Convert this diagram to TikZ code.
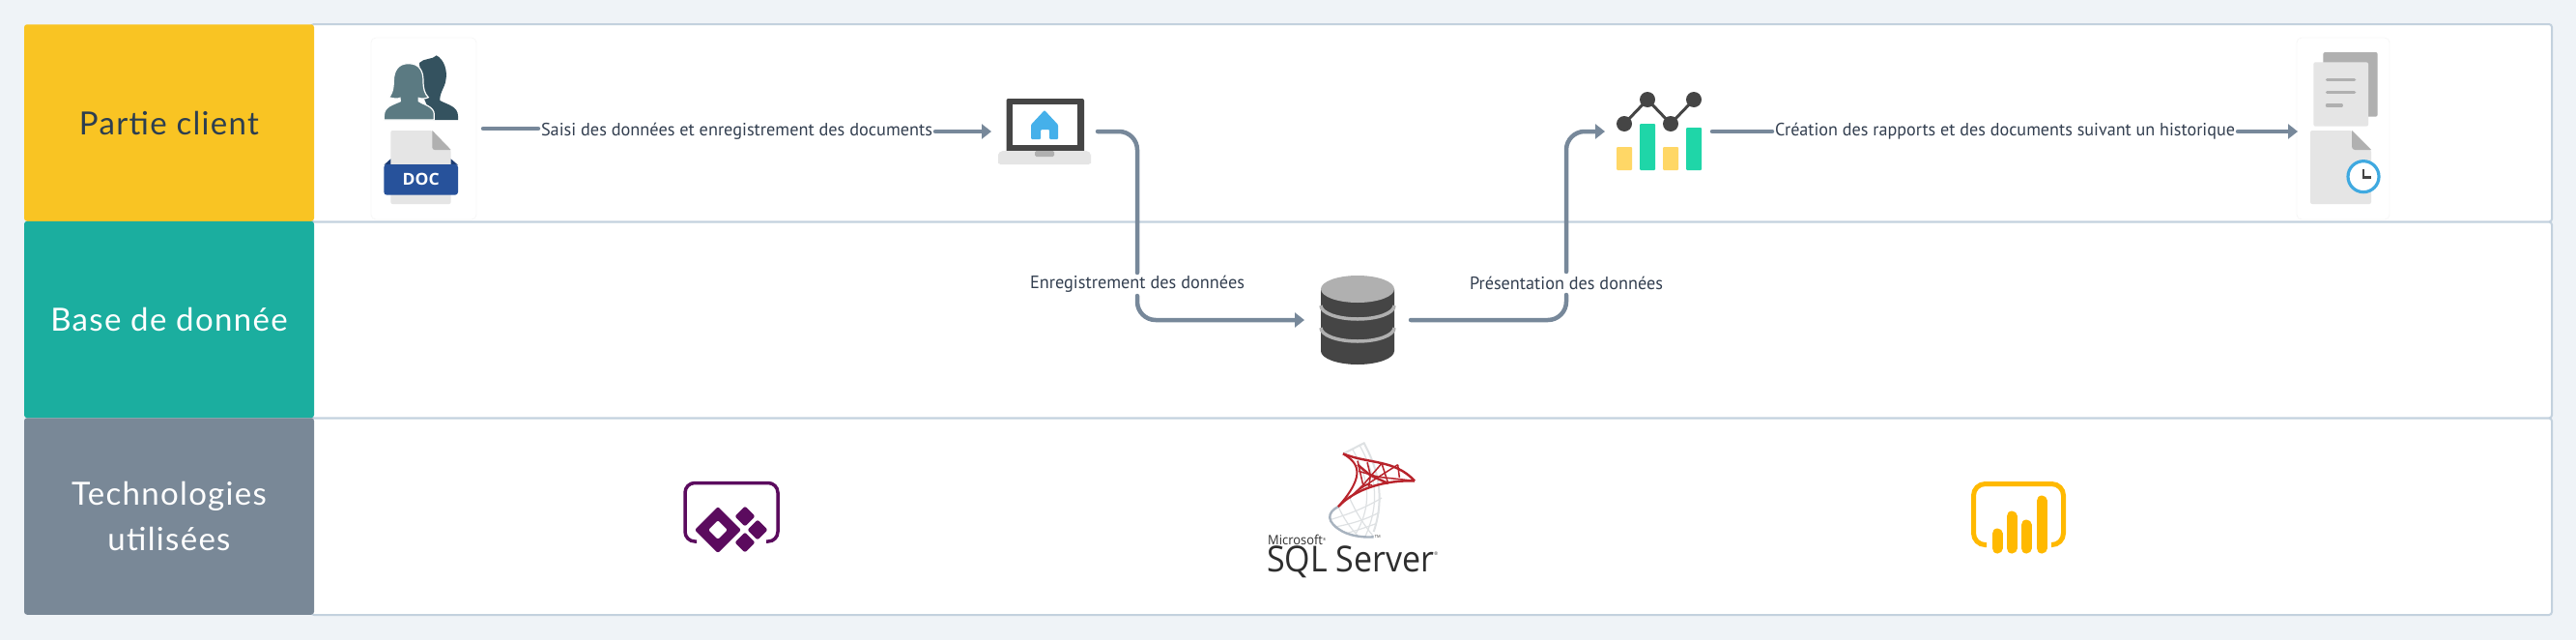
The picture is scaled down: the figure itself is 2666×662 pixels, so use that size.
\documentclass[tikz,border=0pt]{standalone}
\usepackage{fontspec}
\usepackage{graphicx}
\usetikzlibrary{arrows.meta}
\newfontfamily\hdrfont[LetterSpace=4]{Lato}
\newfontfamily\lblfont{PT Sans}
\newfontfamily\logofont{Open Sans}
\definecolor{pagebg}{HTML}{EFF3F7}
\definecolor{rowline}{HTML}{C3D1DE}
\definecolor{hyellow}{HTML}{F9C423}
\definecolor{hteal}{HTML}{1BAE9F}
\definecolor{hgrey}{HTML}{798897}
\definecolor{navy}{HTML}{2C3E50}
\definecolor{conn}{HTML}{77889A}
\definecolor{lbltxt}{HTML}{333F50}
\definecolor{dark}{HTML}{454545}
\definecolor{mid}{HTML}{B0B0B0}
\definecolor{pale}{HTML}{E5E5E5}
\definecolor{bluesky}{HTML}{45B0EA}
\definecolor{docblue}{HTML}{27529B}
\definecolor{person}{HTML}{5B7A82}
\definecolor{personb}{HTML}{34525F}
\definecolor{chgreen}{HTML}{1FD6A8}
\definecolor{chyellow}{HTML}{FFD766}
\definecolor{clockb}{HTML}{3FA9E0}
\definecolor{papps}{HTML}{5B0B5E}
\definecolor{pbi}{HTML}{FFB900}
\definecolor{sqlred}{HTML}{B8232B}
\definecolor{sqlgrey}{HTML}{DEE1E3}
\definecolor{sqlslate}{HTML}{A8B3BF}
\definecolor{sqltext}{HTML}{2E2E2E}
\newcommand{\fitlbl}[2]{\resizebox{#1pt}{\height}{\lblfont\fontsize{18.5}{20}\selectfont #2}}
\tikzset{
  rowhead/.style={rectangle,rounded corners=3pt,minimum width=300pt,minimum height=203.5pt,inner sep=0pt,outer sep=0pt,align=center,font=\hdrfont\fontsize{33}{47}\selectfont},
  rowpanel/.style={draw=rowline,line width=2pt,fill=white,rounded corners=3pt},
  anchorbox/.style={rectangle,inner sep=0pt,outer sep=0pt},
  flowlabel/.style={rectangle,fill=white,text=lbltxt,inner sep=0pt,outer sep=0pt,minimum height=24pt},
  flow/.style={draw=conn,line width=4.5pt,line cap=round,rounded corners=19pt},
  flowarrow/.style={flow,-{Triangle[length=10pt,width=15pt]}},
  iconcard/.style={fill=white,draw=black!3,line width=.8pt,rounded corners=5pt},
  zoomview/.style={x=.33333pt,y=-.33333pt}
}
\begin{document}
\begin{tikzpicture}[x=1pt,y=-1pt]
\useasboundingbox (0,0) rectangle (2666,662);
\fill[pagebg] (0,0) rectangle (2666,662);
% panels
\draw[rowpanel] (322,25) rectangle (2641,229.5);
\draw[rowpanel] (322,229.5) rectangle (2641,432.5);
\draw[rowpanel] (322,432.5) rectangle (2641,636);
% headers
\node[rowhead,fill=hyellow,text=navy] (h1) at (175,127) {Partie client};
\node[rowhead,fill=hteal,text=white] (h2) at (175,330.5) {Base de donnée};
\node[rowhead,fill=hgrey,text=white] (h3) at (175,534) {Technologies\\ utilisées};
% icon cards
\draw[iconcard] (384,39) rectangle (493,227);
\draw[iconcard] (2377,39) rectangle (2473,227);
% people
\begin{scope}[shift={(370,30)},zoomview]
 \fill[personb] (192,105) .. controls (205,90) and (235,95) .. (245,82) .. controls (270,95) and (280,130) .. (274,160) .. controls (270,185) and (255,195) .. (256,222) .. controls (280,235) and (312,240) .. (312,270) -- (312,282) -- (235,282) -- (200,200) -- cycle;
 \fill[person,draw=white,line width=1.2pt] (158,107) .. controls (125,107) and (113,130) .. (112,160) .. controls (112,190) and (105,205) .. (97,212) .. controls (110,216) and (125,218) .. (132,214) -- (133,224) .. controls (110,235) and (82,240) .. (82,270) -- (82,282) -- (238,282) -- (238,265) .. controls (238,240) and (205,235) .. (190,224) -- (190,214) .. controls (200,218) and (212,216) .. (220,212) .. controls (208,200) and (204,185) .. (204,160) .. controls (204,130) and (192,107) .. (158,107) -- cycle;
 % DOC file
 \fill[pale,rounded corners=2pt] (103,315) -- (232,315) -- (290,375) -- (290,543) -- (103,543) -- cycle;
 \fill[mid] (232,315) -- (290,375) -- (240,375) .. controls (235,375) and (232,372) .. (232,367) -- cycle;
 \fill[docblue!75!black] (82,422) -- (103,403) -- (103,422) -- cycle;
 \fill[docblue!75!black] (312,422) -- (290,403) -- (290,422) -- cycle;
 \fill[docblue,rounded corners=3pt] (82,420) -- (312,420) -- (312,515) -- (82,515) -- cycle;
 \node[inner sep=0pt,text=white] (doctext) at (197,467) {\resizebox{38pt}{\height}{\logofont\bfseries\fontsize{17}{18}\selectfont DOC}};
\end{scope}
% laptop
\fill[dark,rounded corners=2pt] (1041.5,102) rectangle (1122,158);
\fill[white] (1048,108) rectangle (1115,150);
\fill[pale,rounded corners=5pt] (1033,156) -- (1129,156) -- (1129,164) .. controls (1129,168) and (1126,170) .. (1122,170) -- (1040,170) .. controls (1036,170) and (1033,168) .. (1033,164) -- cycle;
\fill[mid,rounded corners=1.5pt] (1071,156) rectangle (1091,162);
\fill[bluesky,rounded corners=1pt] (1081,114) -- (1095,129) -- (1095,144) -- (1086,144) -- (1086,134) -- (1077,134) -- (1077,144) -- (1067,144) -- (1067,129) -- cycle;
% database
\fill[dark] (1367,299) -- (1367,363) arc[start angle=180,end angle=0,x radius=38,y radius=14] -- (1443,299) -- cycle;
\draw[mid,line width=3.5pt] (1367,316) arc[start angle=180,end angle=0,x radius=38,y radius=14];
\draw[mid,line width=3.5pt] (1367,339) arc[start angle=180,end angle=0,x radius=38,y radius=14];
\fill[mid] (1405,299) ellipse[x radius=38,y radius=14];
% chart
\draw[dark,line width=3pt] (1681,128) -- (1705,103) -- (1729,128) -- (1753,103);
\foreach \cx/\cy in {1681/128,1705/103,1729/128,1753/103} \fill[dark] (\cx,\cy) circle[radius=8];
\fill[chyellow,rounded corners=1pt] (1673,152) rectangle (1689,176);
\fill[chgreen,rounded corners=1pt] (1697,128) rectangle (1713,176);
\fill[chyellow,rounded corners=1pt] (1721,152) rectangle (1737,176);
\fill[chgreen,rounded corners=1pt] (1745,132) rectangle (1761,176);
% reports
\begin{scope}[shift={(2360,30)},zoomview]
 \fill[mid,rounded corners=2pt] (133,72) rectangle (302,272);
 \fill[pale,rounded corners=2pt] (103,103) rectangle (273,302);
 \draw[mid,line width=3.2pt,line cap=round] (145,157) -- (230,157) (145,197) -- (230,197) (145,237) -- (190,237);
 \fill[pale,rounded corners=2pt] (93,315) -- (222,315) -- (282,375) -- (282,543) -- (93,543) -- cycle;
 \fill[mid] (222,315) -- (282,375) -- (232,375) .. controls (226,375) and (222,371) .. (222,365) -- cycle;
 \fill[white] (258,458) circle[radius=48];
 \draw[clockb,line width=3.2pt] (258,458) circle[radius=48];
 \draw[dark,line width=2.6pt] (258,435) -- (258,460) -- (282,460);
\end{scope}
% power apps
\draw[papps,line width=3.5pt,rounded corners=10pt] (721,560) -- (709,560) -- (709,499.5) -- (805,499.5) -- (805,560) -- (793,560);
\fill[papps,rounded corners=2pt,even odd rule] (743,524) -- (767,548) -- (743,572) -- (719,548) -- cycle (743,538) -- (733,548) -- (743,558) -- (753,548) -- cycle;
\foreach \cx/\cy in {771/534,784/548,771/561}
  \fill[papps,rounded corners=2pt] (\cx,\cy-10.5) -- (\cx+10.5,\cy) -- (\cx,\cy+10.5) -- (\cx-10.5,\cy) -- cycle;
% power bi
\draw[pbi,line width=5pt,rounded corners=12pt] (2056,563.5) -- (2042.5,563.5) -- (2042.5,500.5) -- (2135.5,500.5) -- (2135.5,563.5) -- (2123,563.5);
\foreach \cx/\ct in {2067/547,2082/529,2097/538,2113/513}
  \draw[pbi,line width=11pt,line cap=round] (\cx,\ct+5) -- (\cx,567);
% sql server
\begin{scope}[shift={(1290,450)},zoomview]
 \begin{scope}[sqlgrey,line width=1.2pt]
  \draw[line width=2pt] (300,58) -- (365,25) .. controls (400,90) and (435,180) .. (395,300);
  \draw (330,45) .. controls (370,120) and (400,200) .. (340,305);
  \draw (352,33) .. controls (395,110) and (420,200) .. (370,312);
  \draw (262,262) .. controls (320,245) and (370,225) .. (420,195);
  \draw (275,285) .. controls (330,275) and (375,260) .. (412,240);
  \draw (310,305) .. controls (345,295) and (375,285) .. (402,275);
  \draw (285,222) .. controls (300,255) and (320,285) .. (345,312);
  \draw (320,195) .. controls (340,240) and (365,280) .. (395,315);
 \end{scope}
 \draw[sqlslate,line width=2.4pt] (285,222) .. controls (250,240) and (245,270) .. (300,300) .. controls (330,315) and (370,318) .. (395,316);
 \begin{scope}[sqlred,line width=1.5pt]
  \draw[line width=2.4pt] (300,58) .. controls (380,90) and (460,75) .. (522,142);
  \draw[line width=2.4pt] (522,142) .. controls (430,140) and (340,165) .. (285,222);
  \draw[line width=2pt] (300,58) .. controls (345,85) and (375,120) .. (285,222);
  \draw (345,80) -- (362,155) -- (420,88) -- (440,150);
  \draw[line width=2.4pt] (345,92) -- (385,125) -- (440,150);
  \draw (348,112) -- (410,130) -- (522,142);
  \draw (470,92) -- (410,130) -- (345,172);
  \draw (375,85) -- (385,125) -- (380,160);
  \draw (470,92) -- (475,132);
  \draw (320,195) -- (362,155) -- (390,155);
 \end{scope}
 \node[anchor=base west,inner sep=0pt,text=sqltext] (tmark) at (398,320) {\logofont\fontsize{4}{5}\selectfont TM};
\end{scope}
\node[anchor=base west,inner sep=0pt,text=sqltext] (mslogo) at (1312,563.5) {\resizebox{60pt}{\height}{\logofont\fontsize{13.5}{15}\selectfont Microsoft\raisebox{4pt}{\fontsize{4}{5}\selectfont®}}};
\node[anchor=base west,inner sep=0pt,text=sqltext] (sqllogo) at (1311,591) {\resizebox{177pt}{\height}{\logofont\fontsize{37}{40}\selectfont SQL Server\raisebox{17pt}{\fontsize{5}{6}\selectfont®}}};
% anchors for connectors
\node[anchorbox,minimum width=123pt,minimum height=120pt] (clients) at (438.5,133) {};
\node[anchorbox,minimum width=110pt,minimum height=70pt] (laptop) at (1081,136) {};
\node[anchorbox,minimum width=110pt,minimum height=92pt] (db) at (1405,331) {};
\node[anchorbox,minimum width=111pt,minimum height=80pt] (chart) at (1716.5,136) {};
\node[anchorbox,minimum width=96pt,minimum height=188pt] (reports) at (2426,136) {};
% connectors
\node[flowlabel] (l2) at (1177,294) {\fitlbl{222}{Enregistrement des données}};
\node[flowlabel] (l3) at (1621,293) {\fitlbl{200}{Présentation des données}};
\node[flowlabel,inner xsep=3pt] (l1) at (762.5,136) {\fitlbl{405}{Saisi des données et enregistrement des documents}};
\node[flowlabel,inner xsep=3pt] (l4) at (2075,136) {\fitlbl{476}{Création des rapports et des documents suivant un historique}};
\draw[flow] (clients.east) -- (clients.east -| l1.west);
\draw[flowarrow] (l1.east) -- (laptop.west);
\draw[flow] (laptop.east) -| (l2.north);
\draw[flowarrow] (l2.south) |- (db.west);
\draw[flow] (db.east) -| (l3.south);
\draw[flowarrow] (l3.north) |- (chart.west);
\draw[flow] (chart.east) -- (l4.west);
\draw[flowarrow] (l4.east) -- (reports.west);
\end{tikzpicture}
\end{document}
